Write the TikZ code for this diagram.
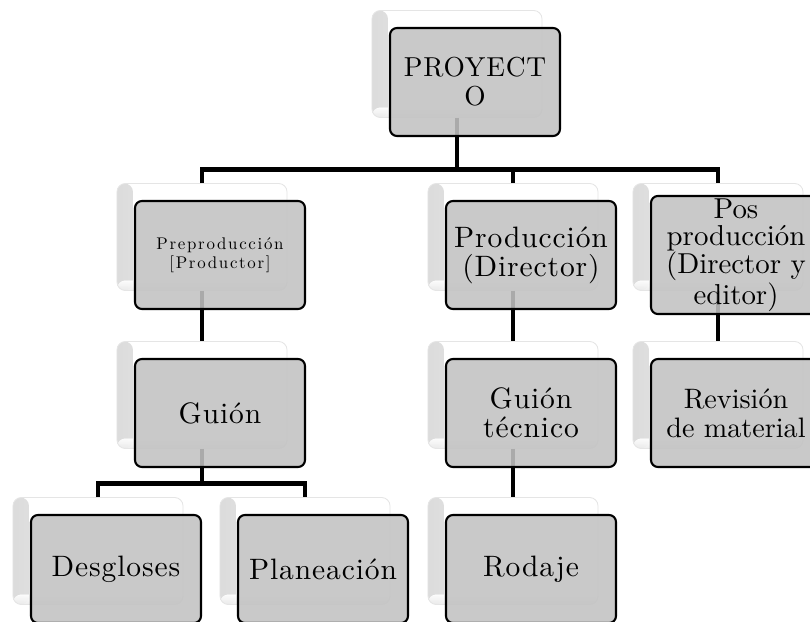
\documentclass[tikz,border=0pt]{standalone}
\usepackage{fontspec}
\setmainfont{lmroman10-regular.otf}[LetterSpace=3]
\newfontfamily\espaciada{lmroman10-regular.otf}[LetterSpace=10]
\newfontfamily\estrecha{lmroman10-regular.otf}
\usepackage{tikz}
\usetikzlibrary{positioning,calc}

\tikzset{
    sombra/.style={rectangle, rounded corners=6pt, minimum width=4.25cm, minimum height=2.675cm,
        fill=white, draw=black!10, line width=0.6pt,
        path picture={
            \fill[left color=black!14, right color=white]
                (path picture bounding box.south west) rectangle ([xshift=0.4cm]path picture bounding box.north west);
            \fill[bottom color=black!10, top color=white, opacity=0.7]
                (path picture bounding box.south west) rectangle ([yshift=0.25cm]path picture bounding box.south east);}},
    caja/.style={rectangle, rounded corners=5pt, minimum width=4.25cm, minimum height=2.7cm,
        fill=black!24, fill opacity=0.88, text opacity=1, draw=black, line width=1.5pt,
        align=center, inner sep=2pt, font=\fontsize{21}{20.6}\selectfont},
    conector/.style={line width=3.5pt}
}

\begin{document}
\begin{tikzpicture}[x=0.025cm, y=-0.025cm]
    \useasboundingbox (0,0) rectangle (810,622);
    \clip (0,0) rectangle (810,622);

    % Back boxes
    \node[sombra] (proyecto) at (457,64) {};
    \node[sombra] (pre) at (202,237) {};
    \node[sombra] (prod) at (513,237) {};
    \node[sombra] (pos) at (718,237) {};
    \node[sombra] (guion) at (202,395) {};
    \node[sombra] (tecnico) at (513,395) {};
    \node[sombra] (revision) at (718,395) {};
    \node[sombra] (desg) at (98,551) {};
    \node[sombra] (plan) at (305,551) {};
    \node[sombra] (rodaje) at (513,551) {};

    % Connectors
    \draw[conector] (proyecto.south) -- ++(0,52) coordinate (bus1);
    \draw[conector] (pre.north) |- (bus1) -| (pos.north);
    \draw[conector] (prod.north) -- (prod.north |- bus1);
    \draw[conector] (pre.south) -- (guion.north);
    \draw[conector] (prod.south) -- (tecnico.north);
    \draw[conector] (pos.south) -- (revision.north);
    \draw[conector] (guion.south) -- ++(0,35) coordinate (bus2);
    \draw[conector] (desg.north) |- (bus2) -| (plan.north);
    \draw[conector] (tecnico.south) -- (rodaje.north);

    % Front boxes
    \node[caja, font=\fontsize{19.5}{20.6}\selectfont] (proyecto-f) at ([shift={(18,18)}]proyecto.center) {PROYECT\\O};
    \node[caja, font=\espaciada\fontsize{12}{13.5}\selectfont] (pre-f) at ([shift={(18,18)}]pre.center) {Preproducción\\{[}Productor{]}};
    \node[caja] (prod-f) at ([shift={(18,18)}]prod.center) {Producción\\(Director)};
    \node[caja, font=\estrecha\fontsize{20.5}{19}\selectfont] (pos-f) at ([shift={(18,18)}]pos.center) {Pos\\producción\\(Director y\\editor)};
    \node[caja] (guion-f) at ([shift={(18,18)}]guion.center) {Guión};
    \node[caja] (tecnico-f) at ([shift={(18,18)}]tecnico.center) {Guión\\técnico};
    \node[caja, font=\estrecha\fontsize{20}{20.6}\selectfont] (revision-f) at ([shift={(18,18)}]revision.center) {Revisión\\de material};
    \node[caja] (desg-f) at ([shift={(18,18)}]desg.center) {Desgloses};
    \node[caja] (plan-f) at ([shift={(18,18)}]plan.center) {Planeación};
    \node[caja] (rodaje-f) at ([shift={(18,18)}]rodaje.center) {Rodaje};

\end{tikzpicture}
\end{document}
